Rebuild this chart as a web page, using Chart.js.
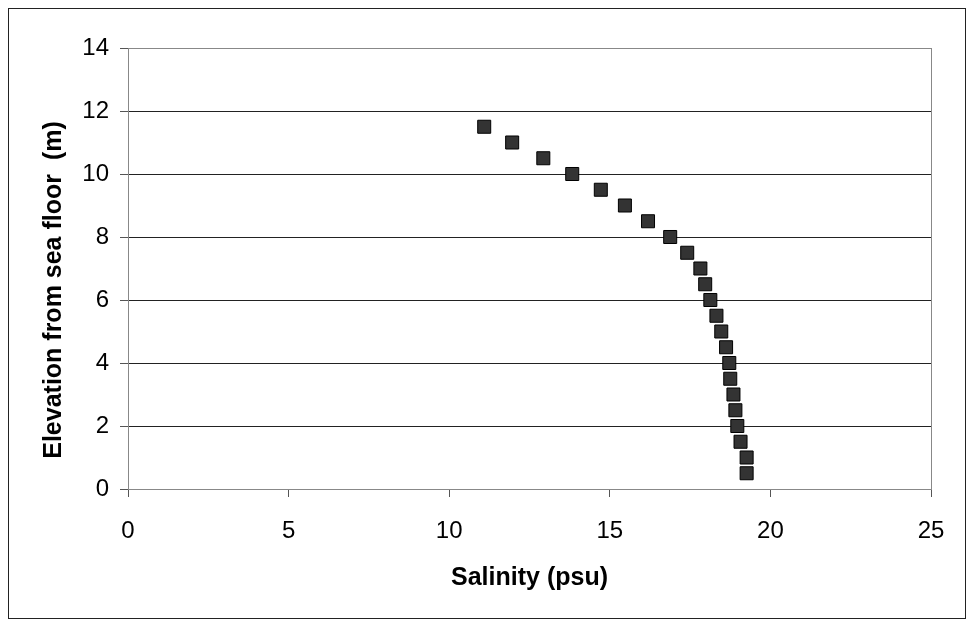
<!DOCTYPE html>
<html>
<head>
<meta charset="utf-8">
<script src="https://cdn.jsdelivr.net/npm/chart.js@4"></script>
<style>
  body { margin: 0; background: #fff; }
  canvas { display: block; }
</style>
</head>
<body>
<canvas id="salinityChart" width="968" height="620"></canvas>
<script>
// Salinity profile
const elevation = [11.5, 11, 10.5, 10, 9.5, 9, 8.5, 8, 7.5, 7, 6.5, 6, 5.5, 5, 4.5, 4, 3.5, 3, 2.5, 2, 1.5, 1, 0.5];
const salinity = [11.09, 11.96, 12.93, 13.83, 14.72, 15.47, 16.19, 16.88, 17.41, 17.82, 17.97, 18.13, 18.32, 18.47, 18.62, 18.72, 18.75, 18.85, 18.91, 18.97, 19.07, 19.26, 19.26];
const xTicks = [0, 5, 10, 15, 20, 25];
const yTicks = [0, 2, 4, 6, 8, 10, 12, 14];
const xTitle = "Salinity (psu)";
const yTitle = "Elevation from sea floor  (m)";

const points = salinity.map((s, i) => ({ x: s, y: elevation[i] }));

// outer box, plot frame and the y title (Excel puts it a bit lower than centre)
const framePlugin = {
  id: "frame",
  afterDraw(chart) {
    const c = chart.ctx;
    const a = chart.chartArea;
    c.save();
    c.strokeStyle = "#222";
    c.lineWidth = 1;
    c.strokeRect(8.5, 8.5, 957, 610);
    c.strokeStyle = "#888";
    c.beginPath();
    c.moveTo(a.right + 0.5, a.top);
    c.lineTo(a.right + 0.5, a.bottom);
    c.stroke();
    c.translate(54, 290);
    c.rotate(-Math.PI / 2);
    c.fillStyle = "#000";
    c.font = "bold 25px 'Liberation Sans', Arial, sans-serif";
    c.textAlign = "center";
    c.textBaseline = "middle";
    c.fillText(yTitle, 0, 0);
    c.restore();
  },
};

const ctx = document.getElementById("salinityChart").getContext("2d");

new Chart(ctx, {
  type: "scatter",
  data: {
    datasets: [
      {
        label: "Salinity",
        data: points,
        pointStyle: "rect",
        pointRadius: 9.2,
        pointHoverRadius: 9.2,
        backgroundColor: "#333",
        borderColor: "#000",
        borderWidth: 1,
      },
    ],
  },
  options: {
    responsive: false,
    animation: false,
    layout: { padding: { top: 48, right: 37, bottom: 0, left: 0 } },
    plugins: {
      legend: { display: false },
      tooltip: { enabled: false },
    },
    scales: {
      x: {
        type: "linear",
        min: 0,
        max: 25,
        afterBuildTicks: (s) => { s.ticks = xTicks.map((v) => ({ value: v })); },
        afterFit: (s) => { s.height = 131; },
        ticks: {
          padding: 20,
          color: "#000",
          font: { family: "'Liberation Sans', Arial, sans-serif", size: 24 },
        },
        grid: {
          drawOnChartArea: false,
          drawTicks: true,
          tickLength: 8,
          tickColor: "#555",
        },
        border: { display: true, color: "#888" },
        title: {
          display: true,
          text: xTitle,
          color: "#000",
          padding: { top: 0, bottom: 27 },
          font: { family: "'Liberation Sans', Arial, sans-serif", size: 25, weight: "bold" },
        },
      },
      y: {
        type: "linear",
        min: 0,
        max: 14,
        afterBuildTicks: (s) => { s.ticks = yTicks.map((v) => ({ value: v })); },
        afterFit: (s) => { s.width = 128; },
        ticks: {
          padding: 11,
          color: "#000",
          font: { family: "'Liberation Sans', Arial, sans-serif", size: 24 },
        },
        grid: {
          color: (c) => (c.tick && c.tick.value === 14 ? "#888" : "#222"),
          tickColor: "#555",
          tickLength: 8,
        },
        border: { display: true, color: "#888" },
      },
    },
  },
  plugins: [framePlugin],
});
</script>
</body>
</html>
